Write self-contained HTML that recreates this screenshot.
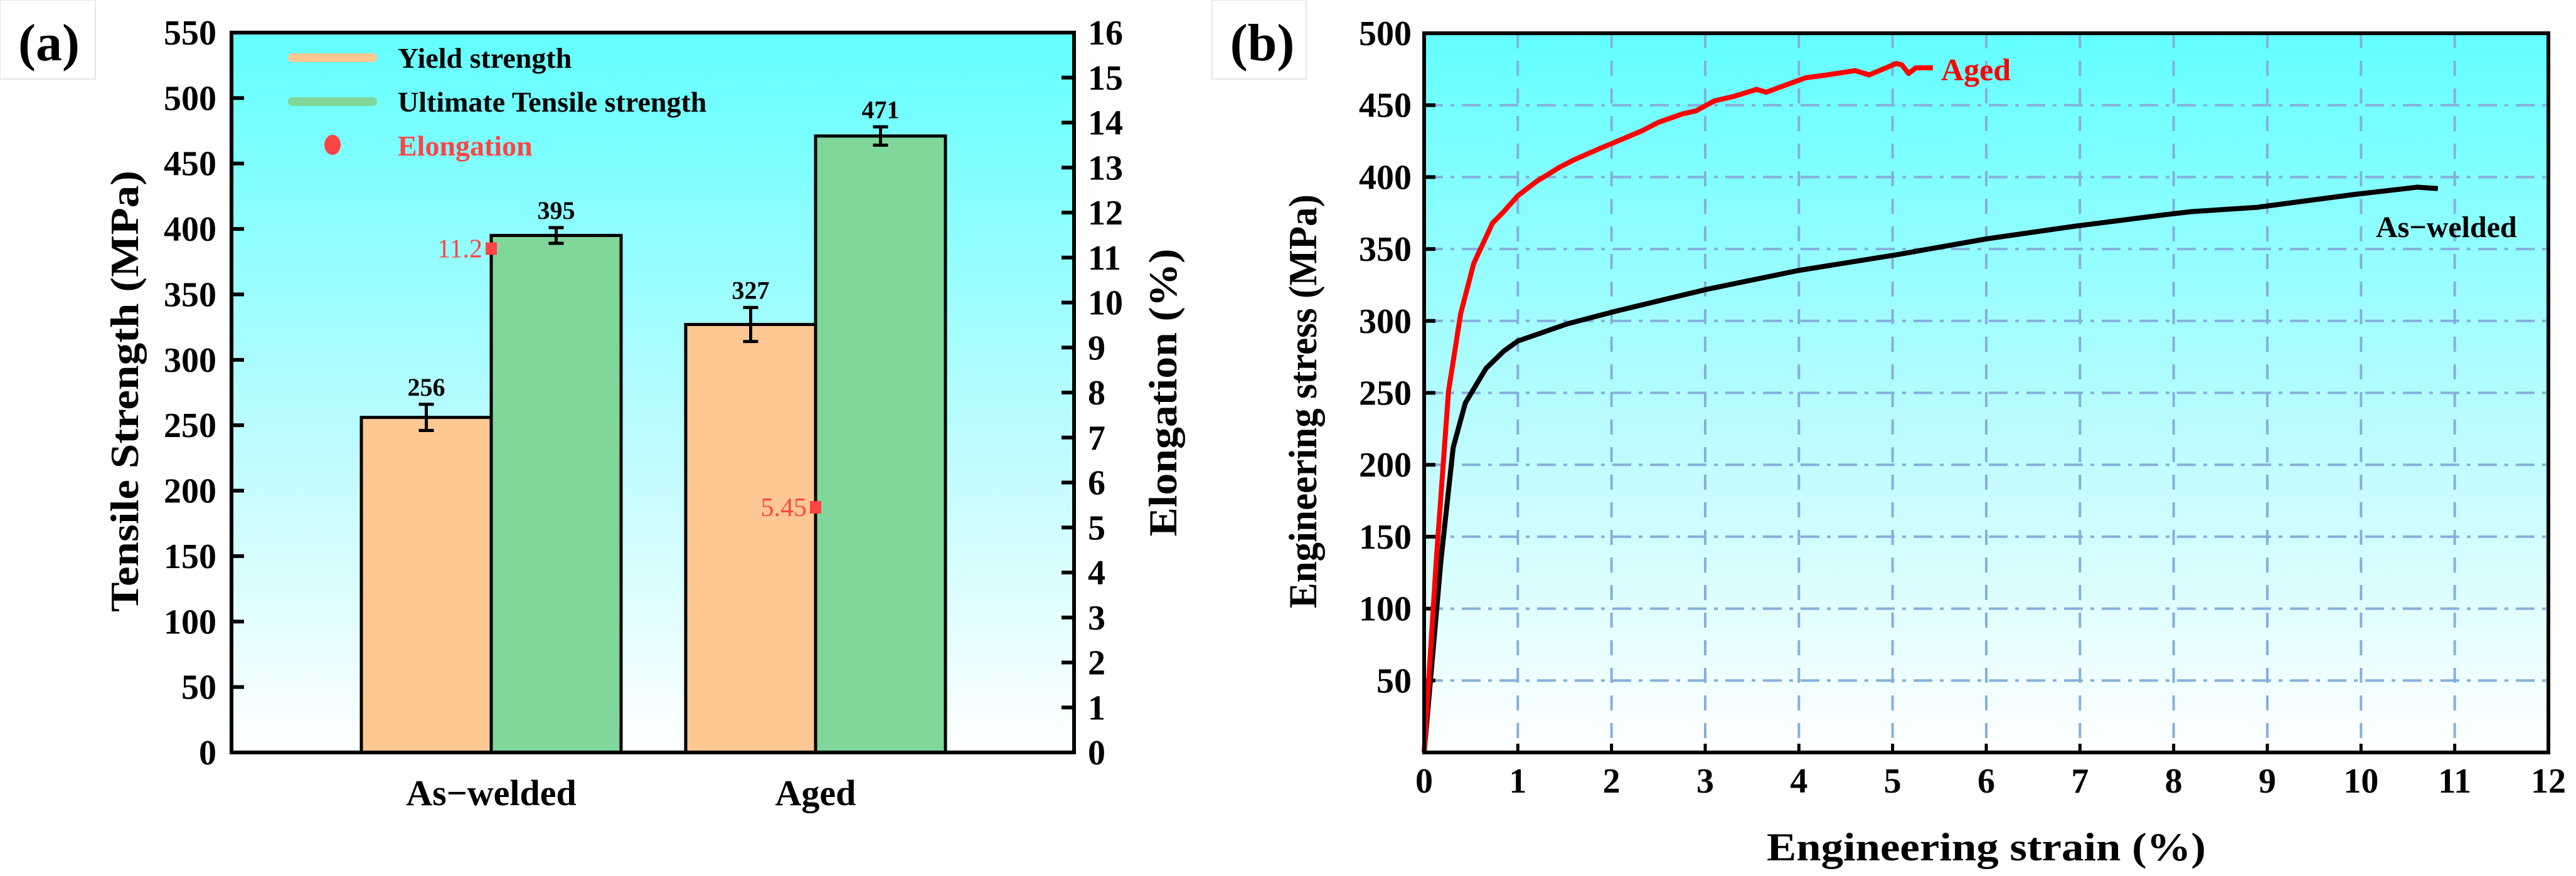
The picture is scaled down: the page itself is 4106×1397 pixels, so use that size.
<!DOCTYPE html>
<html><head><meta charset="utf-8">
<style>
html,body{margin:0;padding:0;background:#fff;}
svg{display:block;font-family:"Liberation Serif",serif;font-weight:bold;}
</style></head>
<body>
<svg id="fig" width="4106" height="1397" viewBox="0 0 4106 1397" xmlns="http://www.w3.org/2000/svg">
<defs>
<linearGradient id="bg" x1="0" y1="0" x2="0" y2="1">
<stop offset="0" stop-color="#62ffff"/>
<stop offset="0.55" stop-color="#bafcff"/>
<stop offset="1" stop-color="#ffffff"/>
</linearGradient>
</defs>
<g id="panelA"></g>
<g id="panelB"></g>
</svg>
<script>
// ---------- Panel (a) data ----------
const categories = ["As\u2212welded", "Aged"];
const yieldStrength = [256, 327];
const yieldErr = [10, 13];
const utsValues = [395, 471];
const utsErr = [6, 7];
const elongation = [11.2, 5.45];
const elongLabels = ["11.2", "5.45"];
const leftTicks = [0,50,100,150,200,250,300,350,400,450,500,550];
const rightTicks = [0,1,2,3,4,5,6,7,8,9,10,11,12,13,14,15,16];

// ---------- Panel (b) data ----------
const agedStrain = [0,0.13,0.26,0.39,0.53,0.73,0.85,1.0,1.2,1.45,1.6,1.88,2.1,2.32,2.5,2.76,2.9,3.1,3.3,3.55,3.65,4.07,4.3,4.6,4.75,5.04,5.1,5.17,5.25,5.43];
const agedStress = [0,134,251,305,340,368,376,387,397,407,412,420,426,432,438,444,446,453,456,461,459,469,471,474,471,479,478,472,476,476];
const weldStrain = [0,0.18,0.31,0.44,0.66,0.85,1.0,1.53,2.06,3.02,3.99,5.04,6.0,6.96,7.93,8.19,8.89,9.94,10.47,10.6,10.82];
const weldStress = [0,134,212,243,267,279,286,298,307,322,335,346,357,366,374,376,379,388,392,393,392];
const xTicksB = [0,1,2,3,4,5,6,7,8,9,10,11,12];
const yTicksB = [50,100,150,200,250,300,350,400,450,500];

const NS = "http://www.w3.org/2000/svg";
function mk(parent, tag, attrs, text){
  const e = document.createElementNS(NS, tag);
  for (const k in attrs) e.setAttribute(k, attrs[k]);
  if (text !== undefined) e.textContent = text;
  parent.appendChild(e);
  return e;
}

// ================= PANEL A =================
const A = document.getElementById('panelA');
const aL = 369, aR = 1712, aT = 52, aB = 1200;
const yA = v => aB - v / 550 * (aB - aT);
const yE = v => aB - v / 16 * (aB - aT);
const catCenter = i => 783 + i * 517;
const barW = 207;

let e;
e = mk(A, 'rect', {x:aL, y:aT, width:aR-aL, height:aB-aT, fill:'url(#bg)'});



e = mk(A, 'rect', {x:0, y:0, width:152, height:126, fill:'none', stroke:'#e6e6e6', 'stroke-width':2});


e = mk(A, 'text', {x:78, y:96, 'font-size':84, 'text-anchor':'middle', fill:'#000'}, '(a)');



categories.forEach((c, i) => {
  const cx = catCenter(i);
  e = mk(A, 'rect', {x:cx-barW, y:yA(yieldStrength[i]), width:barW, height:aB-yA(yieldStrength[i]), fill:'#ffc893', stroke:'#000', 'stroke-width':5});
  
  
  e = mk(A, 'rect', {x:cx, y:yA(utsValues[i]), width:barW, height:aB-yA(utsValues[i]), fill:'#7fd79a', stroke:'#000', 'stroke-width':5});
  
  
  [[cx-barW/2, yieldStrength[i], yieldErr[i], 'yield'], [cx+barW/2, utsValues[i], utsErr[i], 'uts']].forEach(([x, v, er, nm]) => {
    const g = mk(A, 'g', {stroke:'#000', 'stroke-width':5});
    
    
    mk(g, 'line', {x1:x, x2:x, y1:yA(v+er), y2:yA(v-er)});
    mk(g, 'line', {x1:x-12, x2:x+12, y1:yA(v+er), y2:yA(v+er)});
    mk(g, 'line', {x1:x-12, x2:x+12, y1:yA(v-er), y2:yA(v-er)});
    e = mk(A, 'text', {x:x, y:yA(v+er)-14, 'font-size':40, 'text-anchor':'middle', fill:'#000'}, String(v));
    
    
  });
  e = mk(A, 'rect', {x:cx-9, y:yE(elongation[i])-10, width:18, height:20, fill:'#ff4444'});
  
  
  e = mk(A, 'text', {x:cx-14, y:yE(elongation[i])+14, 'font-size':42, 'font-weight':'normal', 'text-anchor':'end', fill:'#ff4444'}, elongLabels[i]);
  
  
  e = mk(A, 'text', {x:cx, y:1284, 'font-size':58, 'text-anchor':'middle', fill:'#000'}, c);
  
  
});

e = mk(A, 'rect', {x:aL, y:aT, width:aR-aL, height:aB-aT, fill:'none', stroke:'#000', 'stroke-width':6});



leftTicks.forEach(t => {
  mk(A, 'line', {x1:aL, x2:aL+20, y1:yA(t), y2:yA(t), stroke:'#000', 'stroke-width':6});
  e = mk(A, 'text', {x:aL-24, y:yA(t)+19, 'font-size':56, 'text-anchor':'end', fill:'#000'}, String(t));
  
  
});
rightTicks.forEach(t => {
  mk(A, 'line', {x1:aR-20, x2:aR, y1:yE(t), y2:yE(t), stroke:'#000', 'stroke-width':6});
  e = mk(A, 'text', {x:aR+22, y:yE(t)+19, 'font-size':56, 'text-anchor':'start', fill:'#000'}, String(t));
  
  
});

e = mk(A, 'text', {x:0, y:0, 'font-size':64, 'text-anchor':'middle', fill:'#000', transform:'translate(220,624) rotate(-90)', textLength:704, lengthAdjust:'spacingAndGlyphs'}, 'Tensile Strength (MPa)');


e = mk(A, 'text', {x:0, y:0, 'font-size':64, 'text-anchor':'middle', fill:'#000', transform:'translate(1875,626) rotate(-90)', textLength:459, lengthAdjust:'spacingAndGlyphs'}, 'Elongation (%)');



const lg = mk(A, 'g', {});


mk(lg, 'line', {x1:466, x2:594, y1:92, y2:92, stroke:'#ffc893', 'stroke-width':14, 'stroke-linecap':'round'});
mk(lg, 'line', {x1:466, x2:594, y1:162, y2:162, stroke:'#7fd79a', 'stroke-width':14, 'stroke-linecap':'round'});
mk(lg, 'ellipse', {cx:530, cy:231, rx:13, ry:16, fill:'#ff4444'});
e = mk(lg, 'text', {x:634, y:108, 'font-size':46, fill:'#000'}, 'Yield strength');


e = mk(lg, 'text', {x:634, y:178, 'font-size':46, fill:'#000'}, 'Ultimate Tensile strength');


e = mk(lg, 'text', {x:634, y:248, 'font-size':46, fill:'#ff4444'}, 'Elongation');



// ================= PANEL B =================
const B = document.getElementById('panelB');
const bL = 2270, bR = 4062, bT = 53, bB = 1200;
const xB = v => bL + v / 12 * (bR - bL);
const yB = v => bB - v / 500 * (bB - bT);

e = mk(B, 'rect', {x:bL, y:bT, width:bR-bL, height:bB-bT, fill:'url(#bg)'});



e = mk(B, 'rect', {x:1932, y:0, width:150, height:126, fill:'none', stroke:'#e6e6e6', 'stroke-width':2});


e = mk(B, 'text', {x:2012, y:96, 'font-size':84, 'text-anchor':'middle', fill:'#000'}, '(b)');



xTicksB.forEach(t => {
  if (t > 0 && t < 12) {
    e = mk(B, 'line', {x1:xB(t), x2:xB(t), y1:bT, y2:bB, stroke:'#85afdc', 'stroke-width':4, 'stroke-dasharray':'24 20'});
    
    
  }
  mk(B, 'line', {x1:xB(t), x2:xB(t), y1:bB-14, y2:bB, stroke:'#000', 'stroke-width':5});
  e = mk(B, 'text', {x:xB(t), y:1264, 'font-size':56, 'text-anchor':'middle', fill:'#000'}, String(t));
  
  
});
yTicksB.forEach(t => {
  if (t < 500) {
    e = mk(B, 'line', {x1:bL, x2:bR, y1:yB(t), y2:yB(t), stroke:'#85afdc', 'stroke-width':4, 'stroke-dasharray':'30 12 6 12'});
    
    
  }
  mk(B, 'line', {x1:bL, x2:bL+18, y1:yB(t), y2:yB(t), stroke:'#000', 'stroke-width':6});
  e = mk(B, 'text', {x:2250, y:yB(t)+19, 'font-size':56, 'text-anchor':'end', fill:'#000'}, String(t));
  
  
});

function pathOf(xs, ys){ return xs.map((x,i)=>(i?'L':'M')+xB(x).toFixed(1)+','+yB(ys[i]).toFixed(1)).join(' '); }
e = mk(B, 'path', {d:pathOf(weldStrain, weldStress), fill:'none', stroke:'#000', 'stroke-width':8, 'stroke-linejoin':'round'});


e = mk(B, 'path', {d:pathOf(agedStrain, agedStress), fill:'none', stroke:'#ff0000', 'stroke-width':8, 'stroke-linejoin':'round'});



e = mk(B, 'text', {x:3094, y:128, 'font-size':50, fill:'#ff0000'}, 'Aged');


e = mk(B, 'text', {x:3787, y:378, 'font-size':48, fill:'#000'}, 'As\u2212welded');



e = mk(B, 'rect', {x:bL, y:bT, width:bR-bL, height:bB-bT, fill:'none', stroke:'#000', 'stroke-width':6});



e = mk(B, 'text', {x:3166, y:1372, 'font-size':64, 'text-anchor':'middle', fill:'#000', textLength:700, lengthAdjust:'spacingAndGlyphs'}, 'Engineering strain (%)');


e = mk(B, 'text', {x:0, y:0, 'font-size':64, 'text-anchor':'middle', fill:'#000', transform:'translate(2098,640) rotate(-90)', textLength:660, lengthAdjust:'spacingAndGlyphs'}, 'Engineering stress (MPa)');


</script>
</body></html>
